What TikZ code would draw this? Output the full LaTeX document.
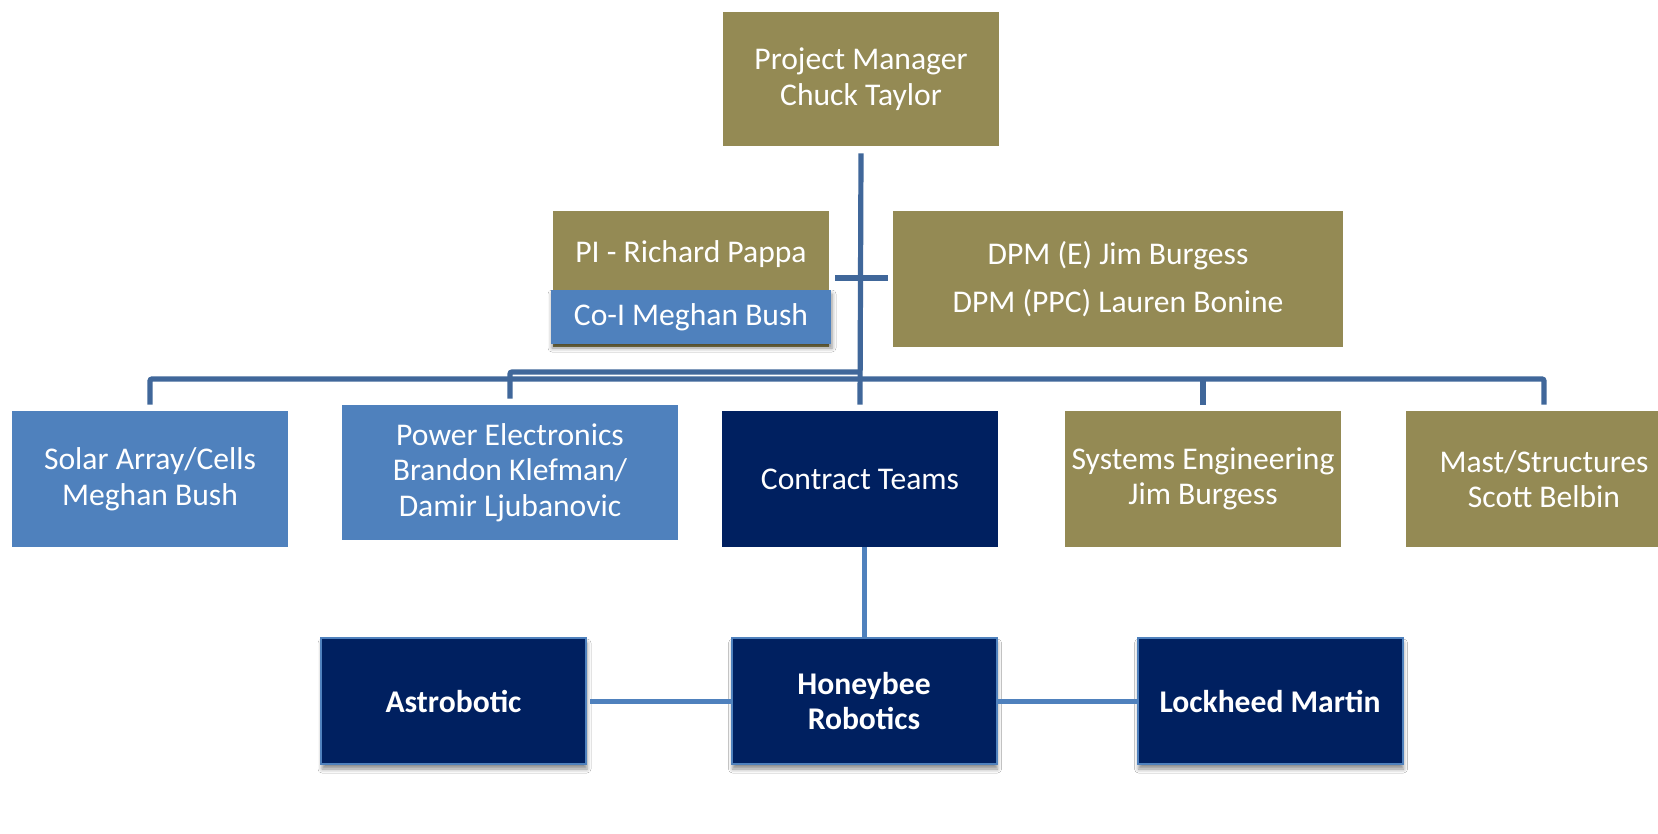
\documentclass[tikz,border=0pt]{standalone}
\usepackage{fontspec}
\setmainfont{Carlito}
\usepackage{tikz}
\usetikzlibrary{calc,shadows.blur}

\definecolor{olive}{RGB}{148,138,84}
\definecolor{midblue}{RGB}{79,129,189}
\definecolor{navy}{RGB}{0,32,96}
\definecolor{linkblue}{RGB}{64,103,154}

\tikzset{
	box/.style={rectangle, inner sep=0pt, text=white, align=center,
		font=\fontsize{15.8}{17.8}\selectfont},
	olivebox/.style={box, fill=olive, minimum width=138pt, minimum height=68pt},
	bluebox/.style={box, fill=midblue, minimum width=138pt, minimum height=68pt},
	navybox/.style={box, fill=navy, minimum width=138pt, minimum height=68pt},
	firmbox/.style={box, fill=navy, draw=midblue, line width=1pt,
		minimum width=132.5pt, minimum height=63pt, font=\fontsize{15.8}{17.8}\selectfont\bfseries,
		blur shadow={shadow xshift=0.5pt, shadow yshift=-2.5pt, shadow blur radius=2pt, shadow opacity=45}},
	link/.style={draw=linkblue, line width=2.6pt},
	sublink/.style={draw=midblue, line width=2.5pt}
}

\begin{document}
\begin{tikzpicture}[x=0.5pt, y=-0.5pt]
		%%%%% START %%%%%
		\clip (0,0) rectangle (1658,834);
		\fill[white] (0,0) rectangle (1658,834);
		
		% top of the chart
		\node[olivebox, minimum height=67pt] (pm) at (861,79) {Project Manager\\Chuck Taylor};
		
		\node[olivebox] (pi) at (691,279) {};
		\node[box] (pitext) at (691,254) {PI - Richard Pappa};
		\node[bluebox, minimum width=140pt, minimum height=27pt,
			blur shadow={shadow xshift=0.5pt, shadow yshift=-2pt, shadow blur radius=2pt, shadow opacity=45}]
			(coi) at (691,317) {Co-I Meghan Bush};
		
		\node[olivebox, minimum width=225pt] (dpm) at (1118,279)
			{DPM (E) Jim Burgess\\[6.3pt]DPM (PPC) Lauren Bonine};
		
		% second row
		\node[bluebox] (solar) at (150,479) {Solar Array/Cells\\Meghan Bush};
		\node[bluebox, minimum width=168pt, minimum height=67.5pt] (pe) at (510,472.5)
			{Power Electronics\\Brandon Klefman/\\Damir Ljubanovic};
		\node[navybox] (ct) at (860,479) {Contract Teams};
		\node[olivebox] (sys) at (1203,479) {Systems Engineering\\Jim Burgess};
		\node[olivebox] (mast) at (1544,479) {Mast/Structures\\Scott Belbin};
		
		% contract teams
		\node[firmbox] (astro) at (453.5,701) {Astrobotic};
		\node[firmbox] (hb) at (864,701) {Honeybee\\Robotics};
		\node[firmbox] (lm) at (1270,701) {Lockheed Martin};
		
		% connectors
		\coordinate (cross) at (862,278);
		\coordinate (bus) at (0,379);
		\coordinate (pebus) at (0,372);
		
		\draw[link] ($(pm.south)+(0,7)$) -- ($(ct.north)+(0,-6)$);
		\draw[link] ($(pi.east |- cross)+(6,0)$) -- ($(dpm.west |- cross)+(-5,0)$);
		
		\draw[link, rounded corners=1pt] ($(solar.north)+(0,-6)$) |- (bus -| mast.north) -- ($(mast.north)+(0,-6)$);
		\draw[link, rounded corners=1pt] ($(pe.north)+(0,-6)$) |- (pebus -| pm.south);
		\draw[link] (bus -| sys.north) -- ($(sys.north)+(0,-6)$);
		
		\draw[sublink] (hb.north |- ct.south) -- (hb.north);
		\draw[sublink] ($(astro.east)+(3,0)$) -- (hb.west);
		\draw[sublink] (hb.east) -- (lm.west);
		
		%%%%% END %%%%%
	\end{tikzpicture}
\end{document}
